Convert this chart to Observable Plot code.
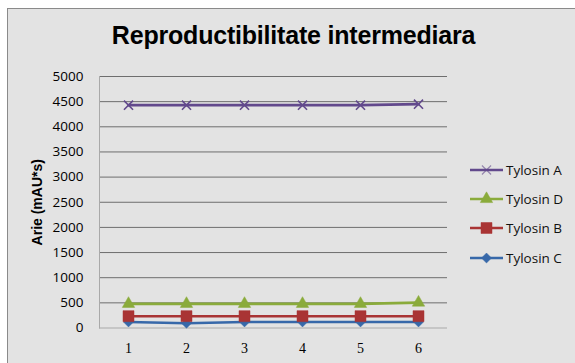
<!DOCTYPE html>
<html><head><meta charset="utf-8">
<script src="https://cdn.jsdelivr.net/npm/d3@7"></script>
<script src="https://cdn.jsdelivr.net/npm/@observablehq/plot@0.6"></script>
<style>
body{margin:0;background:#fff;}
#wrap{position:relative;width:575px;height:363px;overflow:hidden;}
#bg{position:absolute;left:7px;top:8px;width:600px;height:400px;border:1px solid #8a8a8a;background:#e3e3e3;}
#title{position:absolute;left:0;width:587px;top:21px;text-align:center;font:bold 25px "Liberation Sans",sans-serif;color:#000;letter-spacing:-0.2px;}
#chart{position:absolute;left:0;top:0;}
#chart svg{background:transparent;}
#chart g[aria-label="y-axis label"] text{font-weight:bold;font-family:"Liberation Sans",sans-serif;font-size:14px;fill:#000;}
#legend{position:absolute;left:470px;top:160px;font:13.5px "Open Sans",sans-serif;color:#111;}
.item{position:absolute;left:0;white-space:nowrap;height:20px;line-height:20px;}
.item svg{position:absolute;left:0;top:0;}
.item span{position:absolute;left:36px;top:0;}
</style></head>
<body>
<div id="wrap">
  <div id="bg"></div>
  <div id="title">Reproductibilitate intermediara</div>
  <div id="chart"></div>
  <div id="legend"></div>
</div>
<script>
const categories = [1, 2, 3, 4, 5, 6];
const seriesNames = ["Tylosin A", "Tylosin D", "Tylosin B", "Tylosin C"];
const tylosinA = [4430, 4430, 4430, 4430, 4430, 4450];
const tylosinD = [480, 480, 480, 480, 480, 505];
const tylosinB = [235, 235, 235, 235, 235, 235];
const tylosinC = [120, 95, 120, 120, 120, 120];
const yTicks = [0, 500, 1000, 1500, 2000, 2500, 3000, 3500, 4000, 4500, 5000];
const colors = {"Tylosin A": "#62498c", "Tylosin D": "#8aab3b", "Tylosin B": "#a93434", "Tylosin C": "#3768a9"};
const symbols = {"Tylosin A": "times", "Tylosin D": "triangle", "Tylosin B": "square", "Tylosin C": "diamond2"};
const valuesBySeries = {"Tylosin A": tylosinA, "Tylosin D": tylosinD, "Tylosin B": tylosinB, "Tylosin C": tylosinC};

const drawOrder = ["Tylosin C", "Tylosin B", "Tylosin D", "Tylosin A"];
const data = drawOrder.flatMap(s => categories.map((c, i) => ({series: s, x: c, y: valuesBySeries[s][i]})));
const markerOrder = ["Tylosin C", "Tylosin D", "Tylosin B", "Tylosin A"];
const markerR = {"Tylosin A": 4.2, "Tylosin D": 4.6, "Tylosin B": 6.2, "Tylosin C": 4.5};

const chart = Plot.plot({
  width: 575,
  height: 363,
  marginLeft: 99,
  marginRight: 128,
  marginTop: 76,
  marginBottom: 35.5,
  style: {background: "transparent", fontFamily: "Open Sans, sans-serif", fontSize: "13.5px", color: "#000"},
  x: {type: "point", domain: categories, padding: 0.5},
  y: {domain: [0, 5000]},
  marks: [
    Plot.ruleY(yTicks.filter(d => d > 0), {stroke: "#6e6e6e", strokeWidth: 1}),
    Plot.ruleY([0], {stroke: "#a9a9a9", strokeWidth: 1}),
    Plot.frame({anchor: "left", stroke: "#a9a9a9", strokeWidth: 1}),
    Plot.axisY({ticks: yTicks, tickFormat: d => String(d), tickSize: 0, tickPadding: 16, fontSize: 13.5, label: "Arie (mAU*s)", labelAnchor: "center", labelOffset: 67, labelArrow: "none", fill: "#000"}),
    Plot.axisX({tickSize: 0, tickPadding: 15, label: null, fontFamily: "Liberation Serif, serif", fontSize: 14, fill: "#000"}),
    Plot.line(data, {x: "x", y: "y", z: "series", stroke: d => colors[d.series], strokeWidth: 2.6}),
    ...markerOrder.map(s => Plot.dot(data.filter(d => d.series === s), {
      x: "x", y: "y", symbol: symbols[s], r: markerR[s],
      fill: s === "Tylosin A" ? "none" : colors[s],
      stroke: colors[s], strokeWidth: s === "Tylosin A" ? 1.6 : 0.5
    }))
  ]
});
document.getElementById("chart").appendChild(chart);

// legend
const legend = d3.select("#legend");
const legendTops = [0, 29, 58, 88];
seriesNames.forEach((s, i) => {
  const item = legend.append("div").attr("class", "item").style("top", legendTops[i] + "px");
  const svg = item.append("svg").attr("width", 36).attr("height", 20);
  svg.append("line").attr("x1", 0).attr("x2", 33).attr("y1", 10).attr("y2", 10)
    .attr("stroke", colors[s]).attr("stroke-width", 2.6);
  const sym = {times: d3.symbolTimes, triangle: d3.symbolTriangle, square: d3.symbolSquare, diamond2: d3.symbolDiamond2}[symbols[s]];
  svg.append("path").attr("transform", "translate(16.5,10)")
    .attr("d", d3.symbol(sym, Math.PI * markerR[s] * markerR[s])())
    .attr("fill", s === "Tylosin A" ? "none" : colors[s])
    .attr("stroke", colors[s]).attr("stroke-width", s === "Tylosin A" ? 1.2 : 0.5)
    .attr("opacity", s === "Tylosin A" ? 0.6 : 1);
  item.append("span").text(s);
});
</script>
</body></html>
